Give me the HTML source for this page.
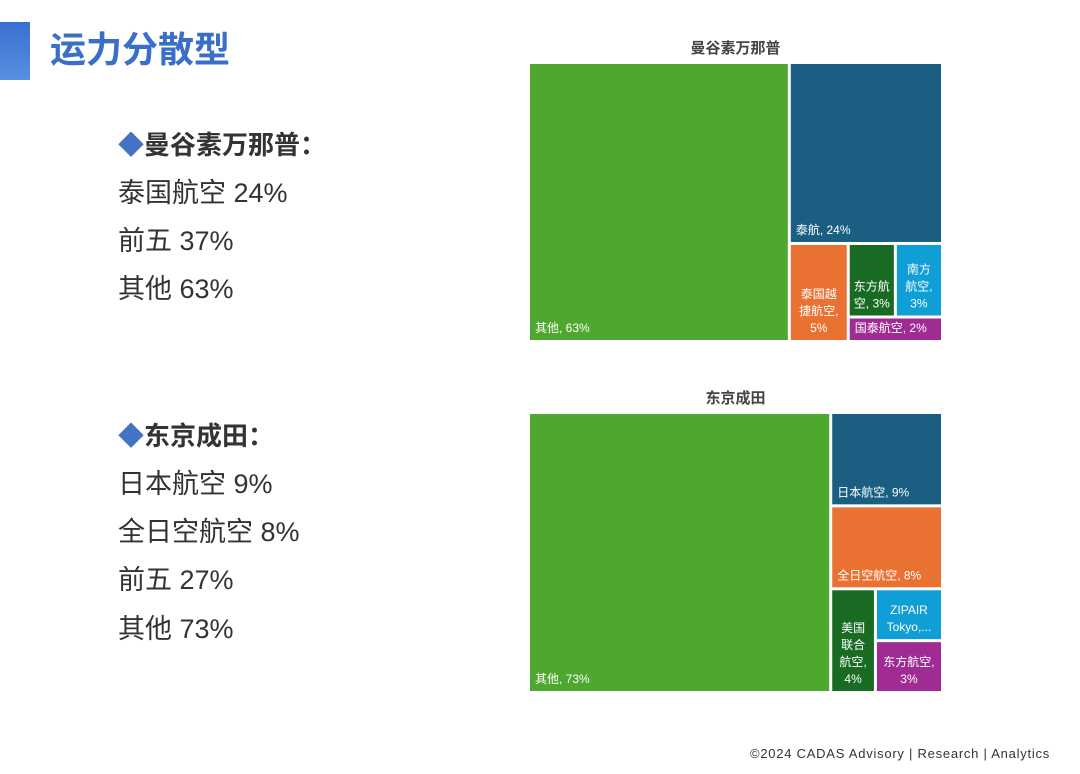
<!DOCTYPE html>
<html><head><meta charset="utf-8">
<style>
body{margin:0;width:1080px;height:774px;background:#fff;position:relative;overflow:hidden;font-family:"Liberation Sans","Noto Sans CJK SC",sans-serif;}
.t{position:absolute;white-space:nowrap;color:#333;font-size:27px;line-height:30px;}
.h{font-weight:bold;color:#333;font-size:26px;}
.h span{color:#4472c4;}
</style></head><body>
<div style="position:absolute;left:0;top:22px;width:30px;height:58px;background:linear-gradient(#3a6fd0,#5a8ee0);"></div>
<div class="t" style="left:50px;top:30px;font-size:36px;line-height:40px;font-weight:bold;color:#3a6fc9;">运力分散型</div>

<div class="t h" style="left:118px;top:130px;"><span>◆</span>曼谷素万那普：</div>
<div class="t" style="left:118px;top:178px;">泰国航空 24%</div>
<div class="t" style="left:118px;top:226px;">前五 37%</div>
<div class="t" style="left:118px;top:274px;">其他 63%</div>

<div class="t h" style="left:118px;top:421px;"><span>◆</span>东京成田：</div>
<div class="t" style="left:118px;top:469px;">日本航空 9%</div>
<div class="t" style="left:118px;top:517px;">全日空航空 8%</div>
<div class="t" style="left:118px;top:565px;">前五 27%</div>
<div class="t" style="left:118px;top:614px;">其他 73%</div>

<div class="t" style="left:750px;top:746px;font-size:13px;line-height:16px;letter-spacing:0.75px;">©2024 CADAS Advisory | Research | Analytics</div>

<svg id="chart" width="1080" height="774" style="position:absolute;left:0;top:0;"></svg>
<script>
const bkkLabels=["其他, 63%","泰航, 24%","泰国越\n捷航空,\n5%","东方航\n空, 3%","南方\n航空,\n3%","国泰航空, 2%"];
const bkkValues=[63,24,5,3,3,2];
const nrtLabels=["其他, 73%","日本航空, 9%","全日空航空, 8%","美国\n联合\n航空,\n4%","ZIPAIR\nTokyo,...","东方航空,\n3%"];
const nrtValues=[73,9,8,4,3,3];
const bkkColors=["#4ea72e","#1a5e82","#e97132","#196b24","#0f9ed5","#a02b93"];
const nrtColors=["#4ea72e","#1a5e82","#e97132","#196b24","#0f9ed5","#a02b93"];
const svg=document.getElementById('chart');
const NS="http://www.w3.org/2000/svg";
function sum(node,vals){return typeof node==='number'?vals[node]:sum(node[1],vals)+sum(node[2],vals);}
function layout(node,vals,r,out){
  if(typeof node==='number'){out.push({i:node,r:r});return;}
  const a=sum(node[1],vals),b=sum(node[2],vals),f=a/(a+b);
  if(node[0]==='v'){const w=r.w*f;layout(node[1],vals,{x:r.x,y:r.y,w:w,h:r.h},out);layout(node[2],vals,{x:r.x+w,y:r.y,w:r.w-w,h:r.h},out);}
  else{const h=r.h*f;layout(node[1],vals,{x:r.x,y:r.y,w:r.w,h:h},out);layout(node[2],vals,{x:r.x,y:r.y+h,w:r.w,h:r.h-h},out);}
}
function draw(name,title,vals,labels,colors,tree,rect){
  const tt=document.createElementNS(NS,'text');
  
  
  tt.setAttribute('x',rect.x+rect.w/2);tt.setAttribute('y',rect.y-11);
  tt.setAttribute('text-anchor','middle');tt.setAttribute('font-size','15');tt.setAttribute('font-weight','bold');tt.setAttribute('fill','#444');
  tt.textContent=title;svg.appendChild(tt);
  const out=[];layout(tree,vals,{x:rect.x,y:rect.y,w:rect.w+3,h:rect.h+3},out);
  out.forEach(o=>{
    const r=o.r;
    const el=document.createElementNS(NS,'rect');
    
    
    el.setAttribute('x',r.x);el.setAttribute('y',r.y);el.setAttribute('width',Math.max(0,r.w-3));el.setAttribute('height',Math.max(0,r.h-3));
    el.setAttribute('fill',colors[o.i]);svg.appendChild(el);
    const lines=labels[o.i].split('\n');
    const centered=lines.length>1;
    const lh=17;
    const tx=document.createElementNS(NS,'text');
    
    
    tx.setAttribute('font-size','12');tx.setAttribute('fill','#fff');
    const x=centered?r.x+(r.w-3)/2:r.x+5;
    tx.setAttribute('text-anchor',centered?'middle':'start');
    const y0=r.y+r.h-3-8-(lines.length-1)*lh;
    lines.forEach((l,k)=>{const ts=document.createElementNS(NS,'tspan');ts.setAttribute('x',x);ts.setAttribute('y',y0+k*lh);ts.textContent=l;tx.appendChild(ts);});
    svg.appendChild(tx);
  });
}
draw('bkk','曼谷素万那普',bkkValues,bkkLabels,bkkColors,['v',0,['h',1,['v',2,['h',['v',3,4],5]]]],{x:530,y:64,w:411,h:276});
draw('nrt','东京成田',nrtValues,nrtLabels,nrtColors,['v',0,['h',1,['h',2,['v',3,['h',4,5]]]]],{x:530,y:414,w:411,h:277});
</script>
</body></html>
